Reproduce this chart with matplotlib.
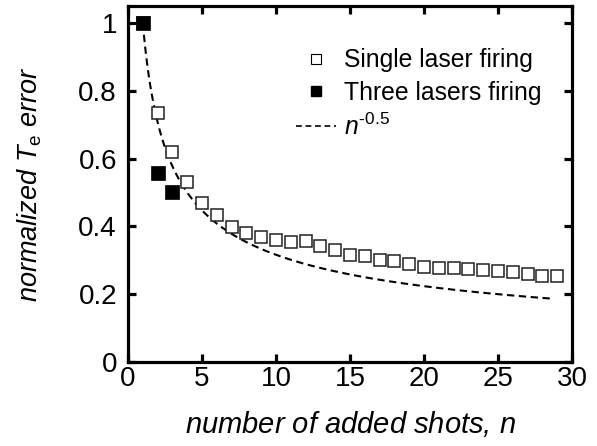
import numpy as np
import matplotlib
matplotlib.use("Agg")
import matplotlib.pyplot as plt
from matplotlib.lines import Line2D

plt.rcParams["font.family"] = ["Liberation Sans", "DejaVu Sans"]
plt.rcParams["mathtext.fontset"] = "custom"
plt.rcParams["mathtext.rm"] = "Liberation Sans"
plt.rcParams["mathtext.it"] = "Liberation Sans:italic"

# Single laser firing: normalized Te error vs. number of added shots
n_single = list(range(1, 30))
err_single = [1.0, 0.734, 0.618, 0.530, 0.468, 0.434, 0.399, 0.380, 0.368, 0.361,
              0.354, 0.356, 0.343, 0.331, 0.317, 0.312, 0.302, 0.297, 0.290, 0.280,
              0.277, 0.277, 0.275, 0.272, 0.267, 0.264, 0.260, 0.255, 0.255]

# Three lasers firing
n_three = [1, 2, 3]
err_three = [1.0, 0.557, 0.500]

# Reference scaling n^-0.5
n_curve = np.linspace(1, 28.7, 300)
err_curve = n_curve ** -0.5

x_ticks = [0, 5, 10, 15, 20, 25, 30]
y_ticks = [0, 0.2, 0.4, 0.6, 0.8, 1.0]
y_tick_labels = ["0", "0.2", "0.4", "0.6", "0.8", "1"]

W, H = 597, 446
fig = plt.figure(figsize=(W / 100, H / 100), dpi=100)
ax = fig.add_axes([128 / W, 1 - 362 / H, (572 - 128) / W, (362 - 6) / H])

ax.plot(n_curve, err_curve, linestyle=(0, (3.5, 2.2)), color="black", lw=1.5, zorder=1)
ax.plot(n_single, err_single, linestyle="none", marker="s", ms=9.3,
        mfc="white", mec="#222222", mew=1.1, zorder=2)
ax.plot(n_three, err_three, linestyle="none", marker="s", ms=10,
        mfc="black", mec="black", mew=0.5, zorder=3)

ax.set_xlim(0, 30)
ax.set_ylim(0, 1.05)
ax.set_xticks(x_ticks)
ax.set_yticks(y_ticks)
ax.set_yticklabels(y_tick_labels)

for s in ax.spines.values():
    s.set_linewidth(2.3)
ax.tick_params(axis="both", which="major", direction="in", length=5.5, width=2.3,
               labelsize=20, top=True, right=True)
ax.tick_params(axis="y", pad=8)
ax.tick_params(axis="x", pad=3)

ax.set_xlabel("number of added shots, $\\mathit{n}$", fontsize=21,
              style="italic", labelpad=12)
ax.set_ylabel("normalized $\\mathit{T}_{\\mathrm{e}}$ error", fontsize=19.5,
              style="italic", labelpad=25)

handles = [
    Line2D([], [], linestyle="none", marker="s", ms=7.5, mfc="white", mec="black", mew=0.8),
    Line2D([], [], linestyle="none", marker="s", ms=7.5, mfc="black", mec="black"),
    Line2D([], [], linestyle=(0, (3.5, 2.2)), color="black", lw=1.2),
]
labels = ["Single laser firing", "Three lasers firing", "$\\mathit{n}^{\\text{-0.5}}$"]
ax.legend(handles, labels, loc="center", bbox_to_anchor=(419 / W, 1 - 94 / H),
          bbox_transform=fig.transFigure, frameon=False, fontsize=17.8,
          handlelength=1.62, handletextpad=0.32, labelspacing=0.34, borderpad=0.1)

fig.savefig("out.png", dpi=100)
